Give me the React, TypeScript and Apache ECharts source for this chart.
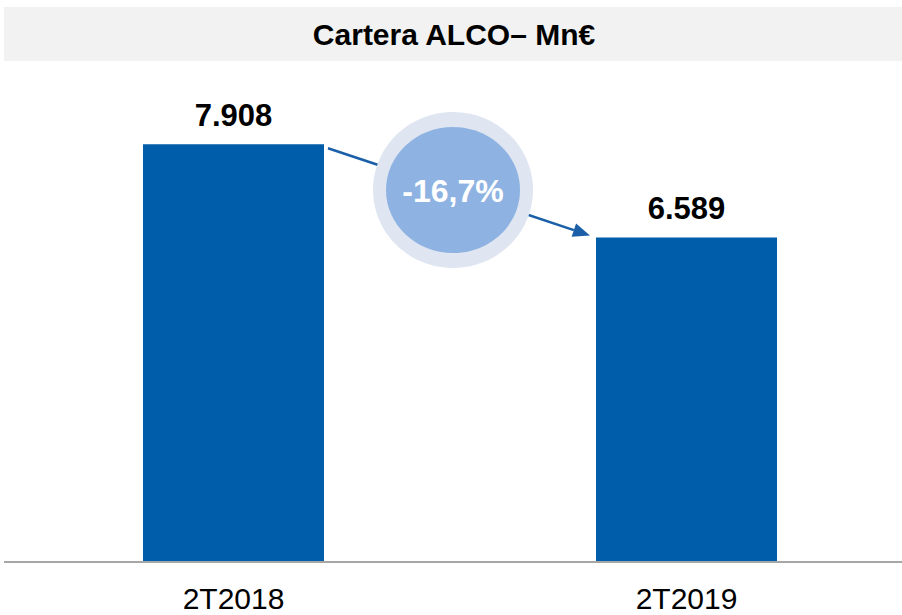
import React, { useEffect, useRef } from "react";
import * as echarts from "echarts";

const categories = ["2T2018", "2T2019"];
const values = [7908, 6589];
const valueLabels = ["7.908", "6.589"];
const title = "Cartera ALCO– Mn€";
const changeLabel = "-16,7%";

const BAR = "#005da9";
const FONT = "'Liberation Sans', Arial, Helvetica, sans-serif";

export default function App() {
  const ref = useRef<HTMLDivElement>(null);
  useEffect(() => {
    if (!ref.current) return;
    const chart = echarts.init(ref.current, null, { renderer: "svg" });
    const base: any = {
      animation: false,
      grid: { left: 233.5, right: 215.5, top: 67, bottom: 53, containLabel: false },
      xAxis: {
        type: "category",
        data: categories,
        boundaryGap: false,
        z: 30,
        axisLine: { show: false },
        axisTick: { show: false },
        axisLabel: { fontSize: 30, color: "#000", fontFamily: FONT, margin: 21 },
      },
      yAxis: {
        type: "value",
        min: 2000,
        max: 9000,
        show: false,
        splitLine: { show: false },
      },
      series: [
        {
          type: "bar",
          data: values,
          barWidth: 181,
          clip: false,
          itemStyle: { color: BAR },
          label: {
            show: true,
            position: "top",
            distance: 13,
            fontSize: 31,
            fontWeight: "bold",
            color: "#000",
            fontFamily: FONT,
            formatter: (p: any) => valueLabels[p.dataIndex],
          },
        },
      ],
      graphic: [],
    };
    chart.setOption(base);

    const p0 = chart.convertToPixel({ gridIndex: 0 }, [0, 2000]) as number[];
    const p1 = chart.convertToPixel({ gridIndex: 0 }, [0, values[0]]) as number[];
    const p2 = chart.convertToPixel({ gridIndex: 0 }, [1, values[1]]) as number[];
    const half = 181 / 2;
    const sx = p1[0] + half + 4;
    const sy = p1[1] + 4;
    const ex = p2[0] - half - 6;
    const ey = p2[1] - 2;
    const ang = Math.atan2(ey - sy, ex - sx);
    const hl = 17;
    const hw = 7;
    const bx = ex - hl * Math.cos(ang);
    const by = ey - hl * Math.sin(ang);
    const nx = -Math.sin(ang);
    const ny = Math.cos(ang);
    const cx = 453;
    const cy = 190;

    chart.setOption({
      graphic: [
        {
          type: "rect",
          shape: { x: 4, y: 7, width: 898, height: 54 },
          style: { fill: "#f2f2f2" },
          z: 0,
        },
        {
          type: "text",
          x: 454,
          y: 34,
          style: {
            text: title,
            fontSize: 30,
            fontWeight: "bold",
            fontFamily: FONT,
            fill: "#000",
            align: "center",
            verticalAlign: "middle",
          },
          z: 1,
        },
        {
          type: "rect",
          shape: { x: 0, y: p0[1], width: 902, height: 615 - p0[1] },
          style: { fill: "#ffffff" },
          z: 15,
        },
        {
          type: "line",
          shape: { x1: 4, y1: p0[1], x2: 902, y2: p0[1] },
          style: { stroke: "#a6a6a6", lineWidth: 2 },
          z: 20,
        },
        {
          type: "line",
          shape: { x1: sx, y1: sy, x2: bx, y2: by },
          style: { stroke: "#1a5fa8", lineWidth: 2.5 },
          z: 5,
        },
        {
          type: "polygon",
          shape: {
            points: [
              [ex, ey],
              [bx + nx * hw, by + ny * hw],
              [bx - nx * hw, by - ny * hw],
            ],
          },
          style: { fill: "#1a5fa8" },
          z: 5,
        },
        {
          type: "ellipse",
          shape: { cx, cy, rx: 80, ry: 78 },
          style: { fill: "#dfe6f1" },
          z: 10,
        },
        {
          type: "ellipse",
          shape: { cx, cy, rx: 67, ry: 63 },
          style: { fill: "#8eb3e2" },
          z: 11,
        },
        {
          type: "text",
          x: cx,
          y: cy + 1,
          style: {
            text: changeLabel,
            fontSize: 32,
            fontWeight: "bold",
            fontFamily: FONT,
            fill: "#ffffff",
            align: "center",
            verticalAlign: "middle",
          },
          z: 12,
        },
      ],
    });

    return () => chart.dispose();
  }, []);
  return (
    <div
      ref={ref}
      style={{ position: "fixed", left: 0, top: 0, width: 902, height: 615, background: "#fff" }}
    />
  );
}
